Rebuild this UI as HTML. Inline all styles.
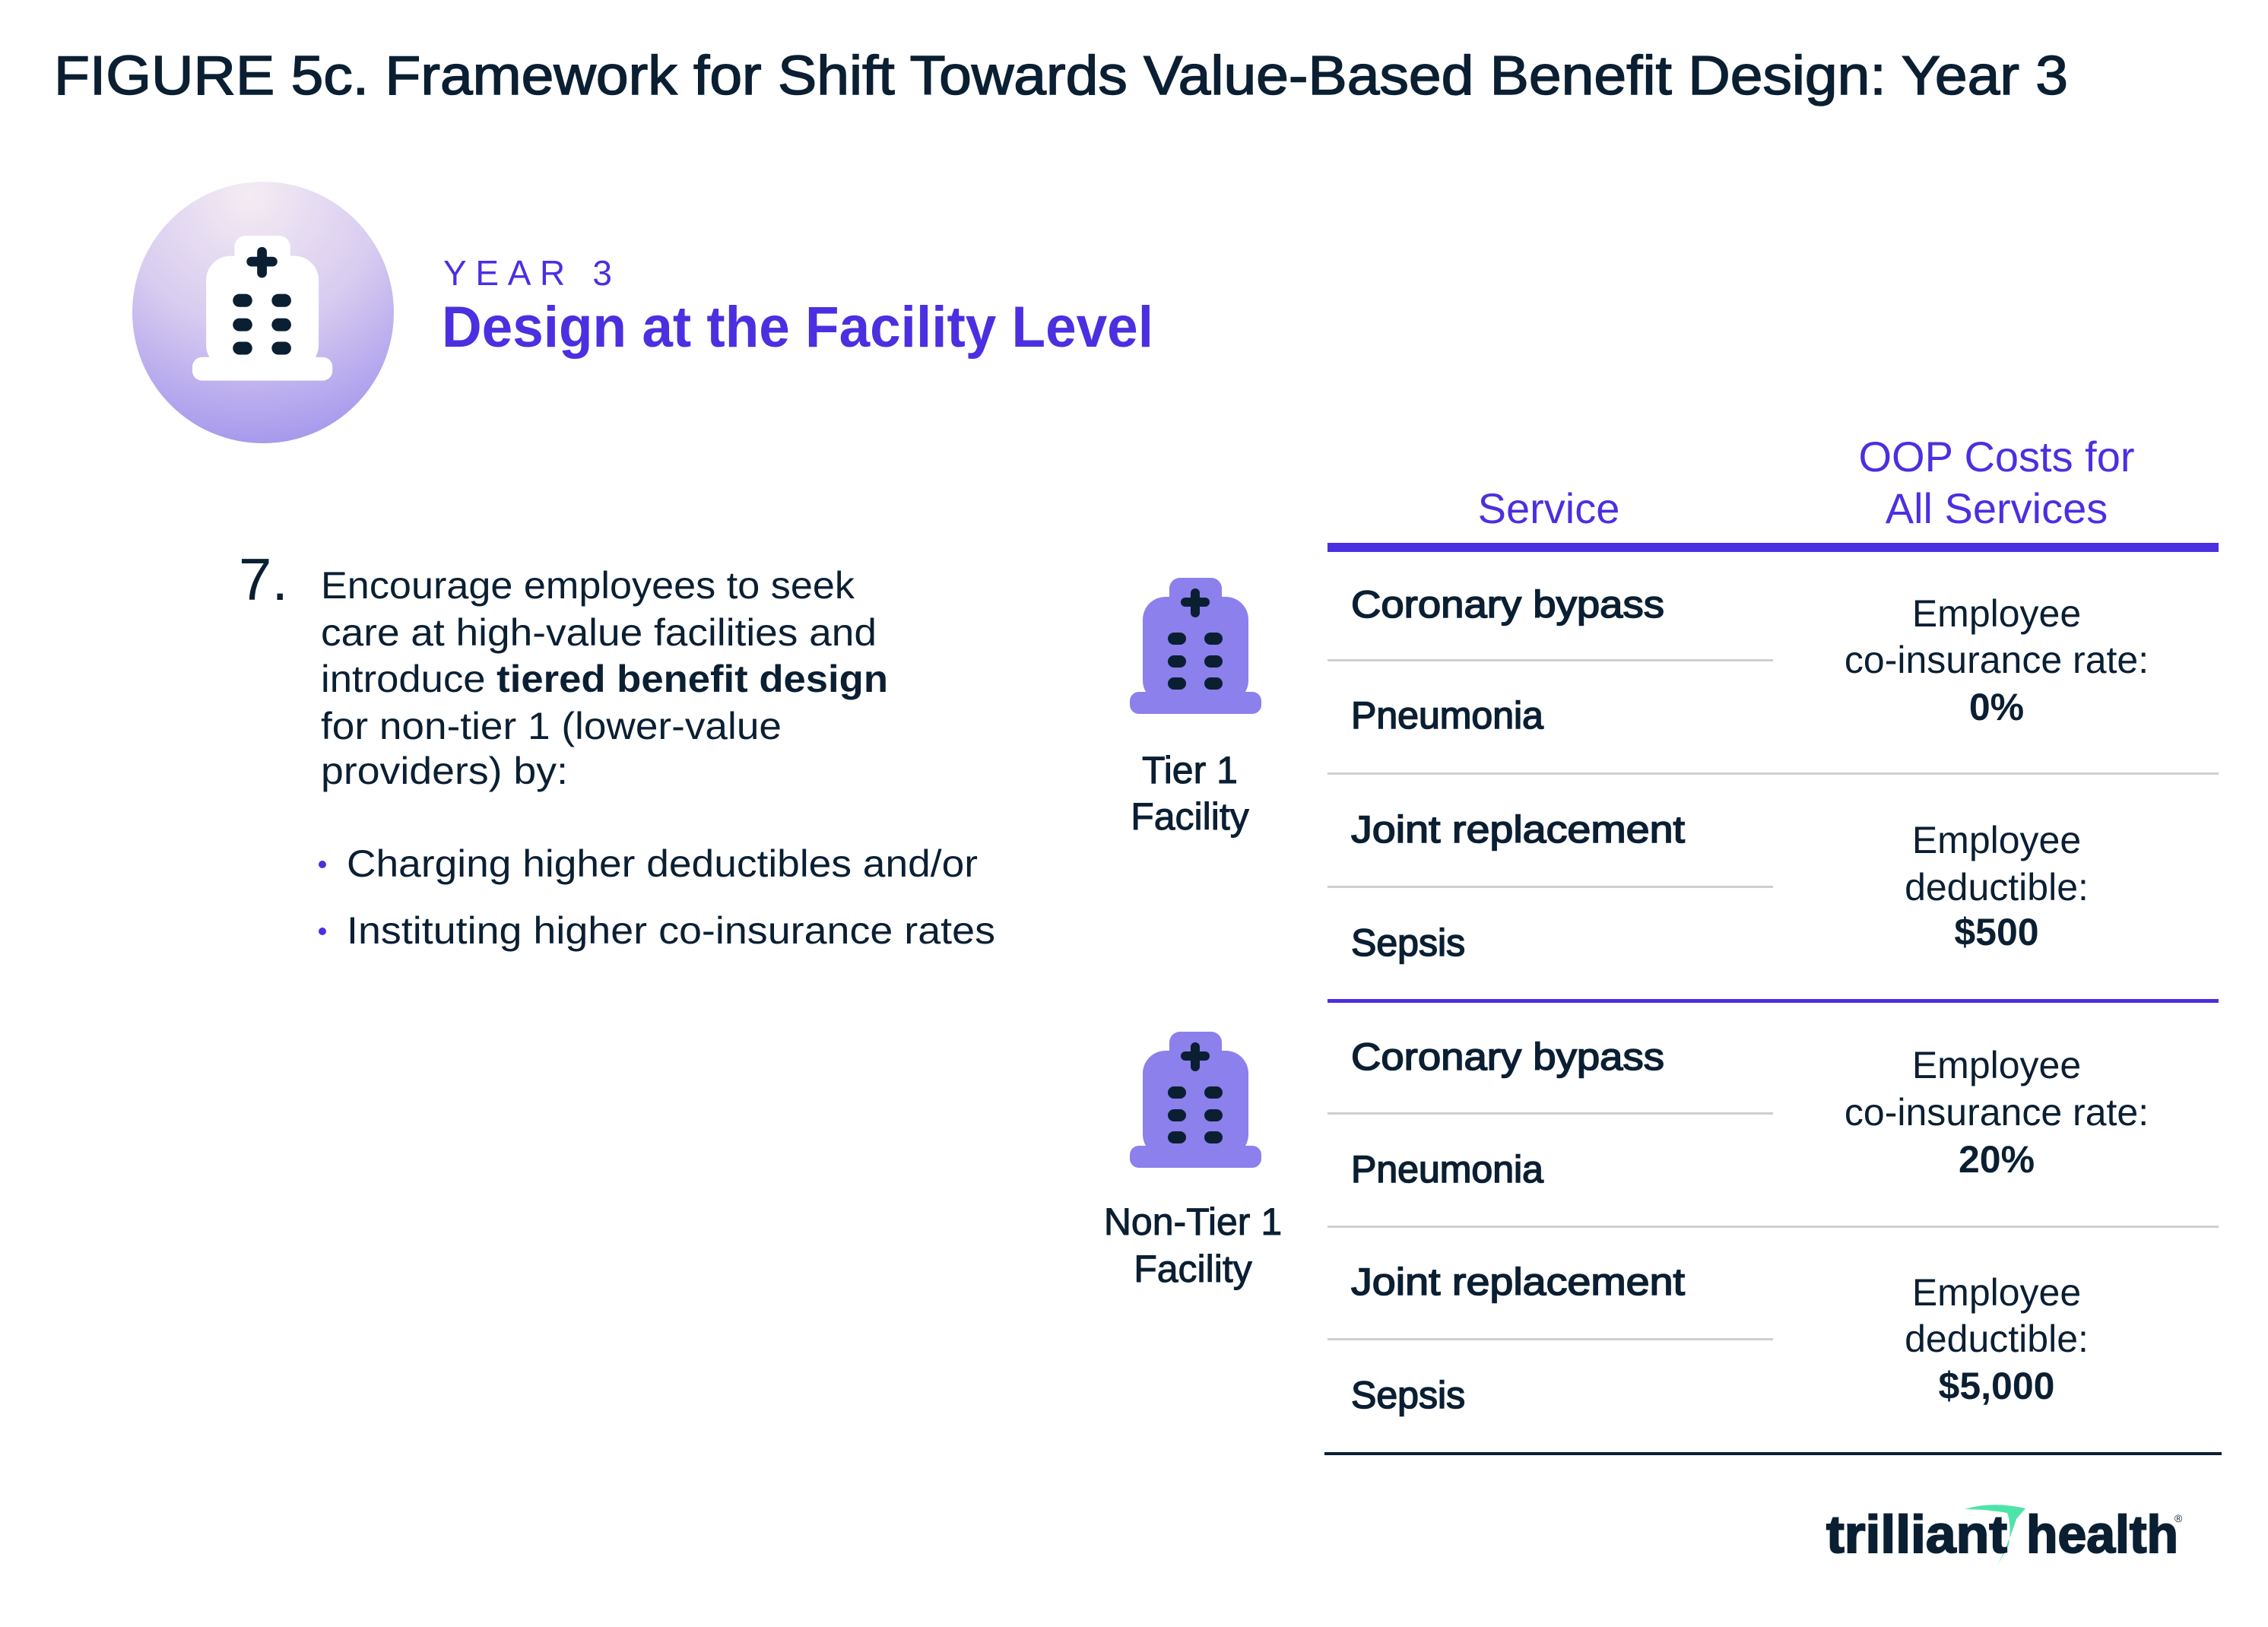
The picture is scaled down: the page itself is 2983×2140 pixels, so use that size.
<!DOCTYPE html>
<html><head><meta charset="utf-8"><style>
html,body{margin:0;padding:0;background:#fff;}
svg{display:block;}
text{font-family:"Liberation Sans",sans-serif;}
</style></head><body>
<svg width="2983" height="2140" viewBox="0 0 2983 2140" xmlns="http://www.w3.org/2000/svg">
<defs>
<radialGradient id="cg" cx="0.45" cy="0.05" r="1.0">
<stop offset="0" stop-color="#f4ecf3"/>
<stop offset="0.5" stop-color="#d8ccf0"/>
<stop offset="1" stop-color="#a294ec"/>
</radialGradient>
<g id="bld">
<rect x="52" y="0" width="69" height="60" rx="14"/>
<rect x="17" y="25" width="139" height="140" rx="30"/>
<rect x="0" y="150" width="173" height="29" rx="12"/>
</g>
<g id="marks" fill="#0b1f33">
<rect x="80" y="14" width="12" height="38" rx="6"/>
<rect x="67" y="26" width="38" height="12" rx="6"/>
<rect x="50" y="72" width="24" height="16" rx="8"/><rect x="98" y="72" width="24" height="16" rx="8"/>
<rect x="50" y="102" width="24" height="16" rx="8"/><rect x="98" y="102" width="24" height="16" rx="8"/>
<rect x="50" y="131" width="24" height="16" rx="8"/><rect x="98" y="131" width="24" height="16" rx="8"/>
</g>
</defs>

<text x="71" y="124" font-size="72" fill="#0b1f33" stroke="#0b1f33" stroke-width="1.5" textLength="2649" lengthAdjust="spacingAndGlyphs">FIGURE 5c. Framework for Shift Towards Value-Based Benefit Design: Year 3</text>

<circle cx="346" cy="411" r="172" fill="url(#cg)"/>
<g transform="translate(253,310) scale(1.065)">
<use href="#bld" fill="#fff"/><use href="#marks"/>
</g>

<text x="583" y="375" font-size="46" fill="#4a30e0" textLength="222" lengthAdjust="spacing">YEAR 3</text>
<text x="581" y="456" font-size="76" font-weight="bold" fill="#4a30e0" textLength="936" lengthAdjust="spacingAndGlyphs">Design at the Facility Level</text>

<text x="314" y="789" font-size="78" fill="#0b1f33">7.</text>
<g font-size="50" fill="#0b1f33">
<text x="422" y="787" textLength="702" lengthAdjust="spacingAndGlyphs">Encourage employees to seek</text>
<text x="422" y="849" textLength="731" lengthAdjust="spacingAndGlyphs">care at high-value facilities and</text>
<text x="422" y="910" textLength="746" lengthAdjust="spacingAndGlyphs">introduce <tspan font-weight="bold">tiered benefit design</tspan></text>
<text x="422" y="972" textLength="606" lengthAdjust="spacingAndGlyphs">for non-tier 1 (lower-value</text>
<text x="422" y="1031" textLength="325" lengthAdjust="spacingAndGlyphs">providers) by:</text>
<text x="456" y="1153" textLength="830" lengthAdjust="spacingAndGlyphs">Charging higher deductibles and/or</text>
<text x="456" y="1241" textLength="853" lengthAdjust="spacingAndGlyphs">Instituting higher co-insurance rates</text>
</g>
<circle cx="424" cy="1137" r="5" fill="#4a30e0"/>
<circle cx="424" cy="1225" r="5" fill="#4a30e0"/>

<g font-size="56" fill="#4a30e0" text-anchor="middle">
<text x="2037" y="688">Service</text>
<text x="2626" y="620">OOP Costs for</text>
<text x="2626" y="688">All Services</text>
</g>

<rect x="1746" y="714" width="1172" height="12" fill="#4a30e0"/>
<rect x="1746" y="867" width="586" height="3" fill="#cfcfcf"/>
<rect x="1746" y="1016" width="1172" height="3" fill="#cfcfcf"/>
<rect x="1746" y="1165" width="586" height="3" fill="#cfcfcf"/>
<rect x="1746" y="1314" width="1172" height="5" fill="#4a30e0"/>
<rect x="1746" y="1463" width="586" height="3" fill="#cfcfcf"/>
<rect x="1746" y="1612" width="1172" height="3" fill="#cfcfcf"/>
<rect x="1746" y="1760" width="586" height="3" fill="#cfcfcf"/>
<rect x="1742" y="1910" width="1180" height="4" fill="#0b1f33"/>

<g font-size="50" fill="#0b1f33" stroke="#0b1f33" stroke-width="1.6">
<text x="1777" y="812" textLength="412" lengthAdjust="spacingAndGlyphs">Coronary bypass</text>
<text x="1777" y="958">Pneumonia</text>
<text x="1777" y="1108" textLength="439" lengthAdjust="spacingAndGlyphs">Joint replacement</text>
<text x="1777" y="1257">Sepsis</text>
<text x="1777" y="1407" textLength="412" lengthAdjust="spacingAndGlyphs">Coronary bypass</text>
<text x="1777" y="1555">Pneumonia</text>
<text x="1777" y="1703" textLength="439" lengthAdjust="spacingAndGlyphs">Joint replacement</text>
<text x="1777" y="1852">Sepsis</text>
</g>

<g font-size="50" fill="#0b1f33" text-anchor="middle">
<text x="2626" y="824">Employee</text>
<text x="2626" y="885">co-insurance rate:</text>
<text x="2626" y="947" font-weight="bold">0%</text>
<text x="2626" y="1122">Employee</text>
<text x="2626" y="1184">deductible:</text>
<text x="2626" y="1243" font-weight="bold">$500</text>
<text x="2626" y="1418">Employee</text>
<text x="2626" y="1480">co-insurance rate:</text>
<text x="2626" y="1542" font-weight="bold">20%</text>
<text x="2626" y="1717">Employee</text>
<text x="2626" y="1778">deductible:</text>
<text x="2626" y="1840" font-weight="bold">$5,000</text>
</g>

<g transform="translate(1486,760)"><use href="#bld" fill="#8b80ec"/><use href="#marks"/></g>
<g transform="translate(1486,1357)"><use href="#bld" fill="#8b80ec"/><use href="#marks"/></g>

<g font-size="50" fill="#0b1f33" stroke="#0b1f33" stroke-width="1" text-anchor="middle">
<text x="1565" y="1030">Tier 1</text>
<text x="1565" y="1091">Facility</text>
<text x="1569" y="1624">Non-Tier 1</text>
<text x="1569" y="1686">Facility</text>
</g>

<path d="M2584,1985 Q2620,1974 2664,1984 L2652,1998 Q2640,2035 2625,2063 L2642,2032 Q2646,2005 2640,1990 Q2612,1985 2584,1985 Z" fill="#4ee3a8"/>
<g font-size="70" font-weight="bold" fill="#0b1f33" stroke="#0b1f33" stroke-width="2">
<text x="2402" y="2042" textLength="238" lengthAdjust="spacingAndGlyphs">trilliant</text>
<text x="2665" y="2042" textLength="200" lengthAdjust="spacingAndGlyphs">health</text>
</g>
<text x="2860" y="2002" font-size="14" fill="#0b1f33">®</text>
</svg>
</body></html>
